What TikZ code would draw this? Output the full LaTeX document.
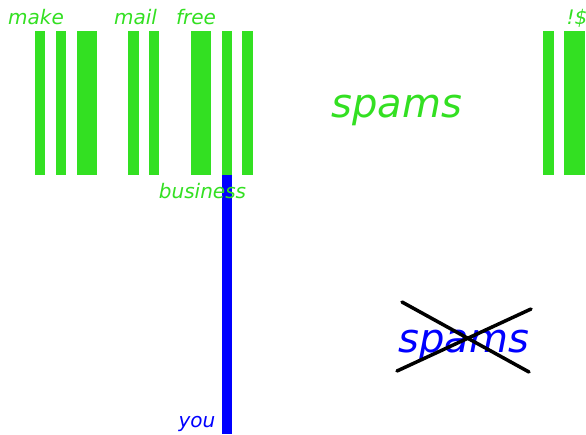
\documentclass[tikz,border=0pt]{standalone}
\usepackage{fontspec}
\setmainfont{DejaVu Sans}
\definecolor{spamgreen}{RGB}{51,224,34}
\definecolor{spamblue}{RGB}{0,0,255}
\begin{document}
\begin{tikzpicture}[x=1pt,y=-1pt,
  bar/.style={fill=spamgreen,draw=none},
  small/.style={inner sep=0pt,anchor=base,font=\fontsize{20}{23}\selectfont\itshape},
  big/.style={inner sep=0pt,anchor=base,font=\fontsize{40}{46}\selectfont\itshape},
  crossline/.style={draw=black,line width=3.5pt,line cap=round}]
\useasboundingbox[fill=white] (0,0) rectangle (586,434);
% barcode bars
\foreach \a/\b in {35/45,56/66,77/97,128/139,149/159,191/211,222/232,242/253,543/554,564/585}
  \path[bar] (\a,31) rectangle (\b,175);
% blue bar
\path[fill=spamblue] (222,175) rectangle (232,434);
% labels
\node[small,text=spamgreen] (make) at (36,24) {make};
\node[small,text=spamgreen] (mail) at (135.5,24) {mail};
\node[small,text=spamgreen] (free) at (196,24) {free};
\node[small,text=spamgreen] (excl) at (577,24) {!\$};
\node[small,text=spamgreen] (business) at (202.5,198) {business};
\node[small,text=spamblue] (you) at (197,427) {you};
\node[big,text=spamgreen] (spamsg) at (397,117) {spams};
\node[big,text=spamblue] (spamsb) at (464,352) {spams};
% cross
\coordinate (c1a) at (402,302);
\coordinate (c1b) at (529,372);
\coordinate (c2a) at (397,371);
\coordinate (c2b) at (531,309);
\draw[crossline] (c1a) -- (c1b);
\draw[crossline] (c2a) -- (c2b);
\end{tikzpicture}
\end{document}
